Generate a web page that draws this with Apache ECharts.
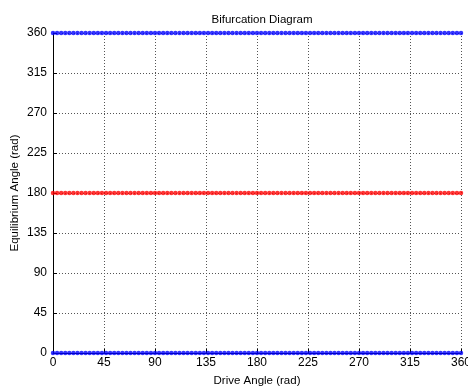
<!DOCTYPE html>
<html><head><meta charset="utf-8">
<script src="https://cdn.jsdelivr.net/npm/echarts@6/dist/echarts.min.js"></script>
<style>html,body{margin:0;padding:0;background:#fff}#c{width:468px;height:387px}</style>
</head><body><div id="c"></div>
<script>
// Drive angle samples 0:3.6:360 (101 points)
const driveAngles = [];
for (let i = 0; i <= 100; i++) driveAngles.push(+(i * 3.6).toFixed(1));
const stableLow = driveAngles.map(() => 0);
const stableHigh = driveAngles.map(() => 360);
const unstableMid = driveAngles.map(() => 180);
const tickValues = [0, 45, 90, 135, 180, 225, 270, 315, 360];

const chart = echarts.init(document.getElementById('c'));
const font = 'Liberation Sans, Arial, sans-serif';
const axisCommon = {
  min: 0, max: 360, interval: 45,
  axisLine: {show: true, onZero: false, lineStyle: {color: '#000', width: 1}},
  axisTick: {show: true, inside: true, length: 4, lineStyle: {color: '#000'}},
  axisLabel: {color: '#000', fontSize: 12, fontFamily: font},
  splitLine: {show: true, lineStyle: {color: '#555', type: [1, 2], width: 1}},
  nameTextStyle: {color: '#000', fontSize: 11.5, fontFamily: font},
  nameMoveOverlap: false
};
const mk = (ys, color) => ({
  type: 'scatter', data: driveAngles.map((x, i) => [x, ys[i]]),
  symbol: 'circle', symbolSize: 4.5, itemStyle: {color: color}, silent: true
});
chart.setOption({
  animation: false,
  title: {text: 'Bifurcation Diagram', left: 257, top: 9, textAlign: 'center',
    textStyle: {fontSize: 11.5, fontWeight: 'normal', color: '#000', fontFamily: font}},
  grid: {left: 53, right: 7, top: 33, bottom: 34, containLabel: false, outerBoundsMode: 'none'},
  xAxis: Object.assign({}, axisCommon, {type: 'value', name: 'Drive Angle (rad)',
    nameLocation: 'middle', nameGap: 22,
    axisLabel: Object.assign({}, axisCommon.axisLabel, {margin: 4})}),
  yAxis: Object.assign({}, axisCommon, {type: 'value', name: 'Equilibrium Angle (rad)',
    nameLocation: 'middle', nameGap: 32,
    axisLabel: Object.assign({}, axisCommon.axisLabel, {margin: 6})}),
  series: [mk(stableHigh, '#0000ff'), mk(unstableMid, '#ff0000'), mk(stableLow, '#0000ff')]
});
</script></body></html>
